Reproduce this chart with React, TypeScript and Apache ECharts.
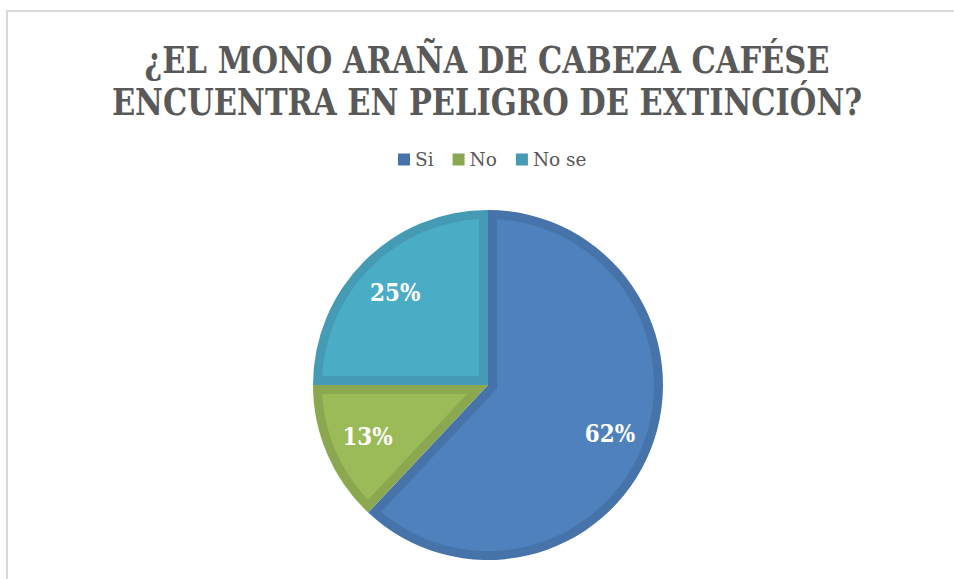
import React, { useEffect, useRef } from 'react';
import * as echarts from 'echarts';

const categories = ['Si', 'No', 'No se'];
const values = [62, 13, 25];
const fillColors = ['#4F81BD', '#9BBB59', '#4BACC6'];
const borderColors = ['#4673AA', '#8BA850', '#449BB3'];
const titleLines = ['¿EL MONO ARAÑA DE CABEZA CAFÉSE', 'ENCUENTRA EN PELIGRO DE EXTINCIÓN?'];

const CENTER: [number, number] = [488, 385];
const RADIUS = 175;
const BAND = 9;
const SERIF = '"DejaVu Serif", "Liberation Serif", serif';

export default function App() {
  const ref = useRef<HTMLDivElement>(null);
  useEffect(() => {
    const chart = echarts.init(ref.current!, null, { renderer: 'svg' });
    const total = values.reduce((a, b) => a + b, 0);
    const starts: number[] = [];
    let acc = 0;
    values.forEach((v) => {
      starts.push(acc);
      acc += v;
    });

    chart.setOption({
      animation: false,
      backgroundColor: '#ffffff',
      legend: {
        data: categories.map((n, i) => ({ name: n, itemStyle: { color: borderColors[i] } })),
        left: 398,
        top: 150,
        padding: 0,
        itemWidth: 12,
        itemHeight: 12,
        itemGap: 19,
        icon: 'rect',
        textStyle: { fontFamily: SERIF, fontSize: 18.5, color: '#595959' },
      },
      graphic: [
        {
          type: 'rect',
          shape: { x: 7, y: 11, width: 1000, height: 1000 },
          style: { fill: 'none', stroke: '#D9D9D9', lineWidth: 2 },
          silent: true,
          z: 0,
        },
        {
          type: 'text',
          x: 487,
          y: 39,
          scaleY: 1.2,
          silent: true,
          z: 5,
          style: {
            text: titleLines.join('\n'),
            font: 'bold 30.5px ' + SERIF,
            lineHeight: 35,
            fill: '#595959',
            align: 'center',
            textAlign: 'center',
            verticalAlign: 'top',
            textVerticalAlign: 'top',
          },
        },
      ],
      series: [
        {
          type: 'pie',
          name: 'Respuestas',
          center: CENTER,
          radius: RADIUS,
          startAngle: 90,
          clockwise: true,
          silent: true,
          z: 1,
          label: { show: false },
          labelLine: { show: false },
          itemStyle: { borderWidth: 0 },
          emphasis: { disabled: true },
          data: categories.map((n, i) => ({
            name: n,
            value: values[i],
            itemStyle: { color: borderColors[i] },
          })),
        },
        {
          type: 'custom',
          coordinateSystem: 'none',
          silent: true,
          z: 2,
          data: values.map((v, i) => [v, i]),
          renderItem: (params: any) => {
            const i = params.dataIndex;
            const a1 = -Math.PI / 2 + (starts[i] / total) * 2 * Math.PI;
            const a2 = -Math.PI / 2 + ((starts[i] + values[i]) / total) * 2 * Math.PI;
            const theta = a2 - a1;
            const m = (a1 + a2) / 2;
            const [cx, cy] = CENTER;
            const t = BAND / Math.sin(theta / 2);
            const r = RADIUS - BAND;
            const delta = Math.asin(BAND / r);
            const pts: number[][] = [[cx + t * Math.cos(m), cy + t * Math.sin(m)]];
            const steps = 120;
            for (let k = 0; k <= steps; k++) {
              const a = a1 + delta + ((a2 - a1 - 2 * delta) * k) / steps;
              pts.push([cx + r * Math.cos(a), cy + r * Math.sin(a)]);
            }
            const lr = RADIUS * 0.75;
            return {
              type: 'group',
              children: [
                { type: 'polygon', shape: { points: pts }, style: { fill: fillColors[i] } },
                {
                  type: 'text',
                  x: cx + lr * Math.cos(m),
                  y: cy + lr * Math.sin(m),
                  scaleY: 1.1,
                  style: {
                    text: Math.round((values[i] / total) * 100) + '%',
                    fill: '#ffffff',
                    font: 'bold 21.5px ' + SERIF,
                    align: 'center',
                    verticalAlign: 'middle',
                    textAlign: 'center',
                    textVerticalAlign: 'middle',
                  },
                },
              ],
            };
          },
        },
      ],
    });
    return () => chart.dispose();
  }, []);
  return (
    <div
      ref={ref}
      style={{ position: 'fixed', left: 0, top: 0, width: 954, height: 579, background: '#fff' }}
    />
  );
}
